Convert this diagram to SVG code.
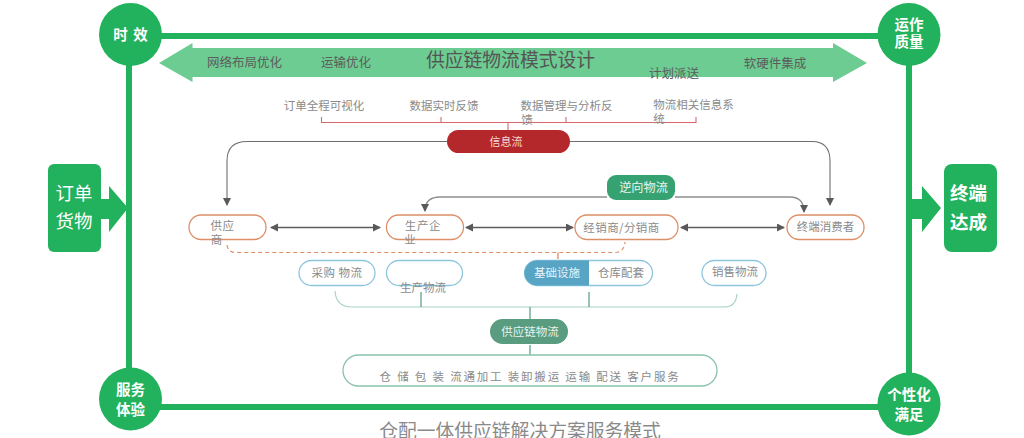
<svg xmlns="http://www.w3.org/2000/svg" width="1024" height="438" viewBox="0 0 1024 438">
<defs>
<marker id="ah" markerWidth="9" markerHeight="9" refX="7" refY="4" orient="auto-start-reverse" markerUnits="userSpaceOnUse"><path d="M0,0L8,4L0,8Z" fill="#595959"/></marker>
</defs>
<style>
text{font-family:"Noto Sans CJK SC","Noto Sans",sans-serif;text-anchor:middle}
.g{fill:#22b15c}
.w{fill:#fff;font-weight:700;font-size:14.500px}
.big{fill:#fff;font-size:18.500px}
.ar{fill:#5c5c5c;font-size:12.500px}
.lb{fill:#8a8a8a;font-size:11.500px}
.or{fill:#fff;stroke:#dd8f68;stroke-width:1.3}
.bl{fill:#fff;stroke:#8cc5dc;stroke-width:1.3}
.con{fill:none;stroke:#6e6e6e;stroke-width:1.1}
.rev{fill:none;stroke:#8f8f8f;stroke-width:1.3}
.dbl{fill:none;stroke:#5c5c5c;stroke-width:1.5}
.br{fill:none;stroke:#d9686c;stroke-width:1.1}
.te{fill:none;stroke:#a7d3c2;stroke-width:1.2}
.tk{fill:none;stroke:#529c80;stroke-width:1.2}
</style>
<g id="frame" fill="none" stroke="#22b15c" stroke-width="6">
<path d="M130,36H893"/><path d="M129,60V385"/><path d="M130,407H893"/><path d="M909,60V385"/>
</g>
<g id="banner">
<path d="M159,63L192.500,43V48H833V43L867,63L833,82V77H192.500V82Z" fill="#6ccc91"/>
<text x="244.500" y="67" class="ar">网络布局优化</text>
<text x="346" y="67" class="ar">运输优化</text>
<text x="510.500" y="67" font-size="18.800" fill="#555">供应链物流模式设计</text>
<text x="674" y="78" class="ar">计划派送</text>
<text x="775" y="68" class="ar">软硬件集成</text>
</g>
<g id="connectors">
<path class="br" d="M321.500,117V122.500H696V117M441,117V122.500M566,117V122.500"/>
<path class="br" d="M508,122.500V130"/>
<path class="con" d="M447,141.500H247Q227,141.500 227,161V205" marker-end="url(#ah)"/>
<path class="con" d="M570,141.500H812Q830,141.500 830,161V205" marker-end="url(#ah)"/>
<path class="rev" d="M607,197H440Q425,197 425,211" marker-end="url(#ah)"/>
<path class="rev" d="M675,197H790Q804,197 804,212" marker-end="url(#ah)"/>
<path class="dbl" d="M271,227.500H380" marker-start="url(#ah)" marker-end="url(#ah)"/>
<path class="dbl" d="M466,227.500H573" marker-start="url(#ah)" marker-end="url(#ah)"/>
<path class="dbl" d="M681,227.500H784" marker-start="url(#ah)" marker-end="url(#ah)"/>
<path d="M227,245Q228,252.500 236,252.500H615Q624,252.500 625,242" fill="none" stroke="#dd8f68" stroke-width="1.200" stroke-dasharray="4 3"/>
<path d="M558,252.500V259" fill="none" stroke="#d9804f" stroke-width="1.200"/>
<path class="te" d="M335,291Q336,307 352,307H724Q736,307 737,294"/>
<path class="tk" d="M421,292V307M589,292V307M530,307V319M530,345V355"/>
</g>
<g id="n-time"><circle cx="130.500" cy="34.500" r="31.500" class="g"/><text x="131" y="40" class="w" letter-spacing="1">时 效</text></g>
<g id="n-quality"><circle cx="909" cy="34.500" r="31.500" class="g"/><text x="909" y="30" class="w">运作</text><text x="909" y="47" class="w">质量</text></g>
<g id="n-service"><circle cx="130.500" cy="399" r="31.500" class="g"/><text x="130.500" y="395" class="w">服务</text><text x="130.500" y="415" class="w">体验</text></g>
<g id="n-custom"><circle cx="909" cy="404" r="31.500" class="g"/><text x="909" y="400" class="w">个性化</text><text x="909" y="420" class="w">满足</text></g>
<g id="n-order">
<rect x="48" y="164" width="53" height="88" rx="6" class="g"/>
<path d="M101,199H109V186L128,208L109,232V219H101Z" class="g"/>
<text x="74" y="200" class="big">订单</text><text x="74" y="228" class="big">货物</text>
</g>
<g id="n-deliver">
<path d="M909,199H922V186L941,208L922,232V219H909Z" class="g"/>
<rect x="944" y="164" width="53" height="88" rx="8" class="g"/>
<text x="968.500" y="200" class="big" font-weight="700">终端</text><text x="968.500" y="229" class="big" font-weight="700">达成</text>
</g>
<g id="labels-info">
<text x="324" y="110" class="lb">订单全程可视化</text>
<text x="444" y="110" class="lb">数据实时反馈</text>
<text x="566.500" y="110" class="lb">数据管理与分析反</text>
<text x="527" y="124" class="lb">馈</text>
<text x="693.500" y="109" class="lb">物流相关信息系</text>
<text x="659" y="123" class="lb">统</text>
</g>
<g id="n-info"><rect x="447" y="130" width="123" height="23" rx="11.500" fill="#b4282c"/><text x="506" y="146" font-size="11" fill="#f3dcdc">信息流</text></g>
<g id="n-reverse"><rect x="607" y="175" width="68" height="25" rx="9" fill="#37a271"/><text x="643.500" y="192" font-size="12.200" fill="#e8f5ee">逆向物流</text></g>
<g id="n-supplier"><rect x="189" y="215" width="77" height="24.500" rx="12" class="or"/><text x="222.500" y="230" class="lb" letter-spacing="0.600">供应</text><text x="216.500" y="244" class="lb">商</text></g>
<g id="n-maker"><rect x="386.500" y="215" width="77" height="24.500" rx="12" class="or"/><text x="423" y="230" class="lb" letter-spacing="0.600">生产企</text><text x="410" y="244" class="lb">业</text></g>
<g id="n-dealer"><rect x="575" y="215" width="103" height="24.500" rx="12" class="or"/><text x="621.500" y="232" class="lb" letter-spacing="0.400">经销商/分销商</text></g>
<g id="n-consumer"><rect x="787" y="215" width="77" height="24.500" rx="12" class="or"/><text x="825.500" y="231" class="lb">终端消费者</text></g>
<g id="n-buy"><rect x="299" y="260.500" width="76" height="25" rx="12.500" class="bl"/><text x="337" y="277" class="lb" letter-spacing="0.500">采购 物流</text></g>
<g id="n-prod"><rect x="386.500" y="260.500" width="76" height="25" rx="12.500" class="bl"/><text x="423" y="292" class="lb">生产物流</text></g>
<g id="n-base">
<rect x="524.500" y="260.500" width="128" height="25" rx="12.500" class="bl"/>
<path d="M589,260.500H537A12.500,12.500 0 0 0 537,285.500H589Z" fill="#57a4c5"/>
<text x="557" y="277" font-size="11.500" fill="#e8f3f8">基础设施</text>
<text x="621" y="277" class="lb">仓库配套</text>
</g>
<g id="n-sales"><rect x="702" y="260.500" width="64" height="25" rx="12.500" class="bl"/><text x="735" y="276" class="lb">销售物流</text></g>
<g id="n-chain"><rect x="490" y="319" width="78" height="25" rx="12.500" fill="#599c80"/><text x="530" y="336" font-size="11.500" fill="#e8f3ee">供应链物流</text></g>
<g id="n-services"><rect x="343" y="355" width="374" height="31" rx="15.500" fill="#fff" stroke="#8bc2ab" stroke-width="1.300"/><text x="530" y="381" class="lb" letter-spacing="1.800">仓 储 包 装 流通加工 装卸搬运 运输 配送 客户服务</text></g>
<text x="520" y="438" font-size="18.800" fill="#8a8a8a">仓配一体供应链解决方案服务模式</text>
</svg>
